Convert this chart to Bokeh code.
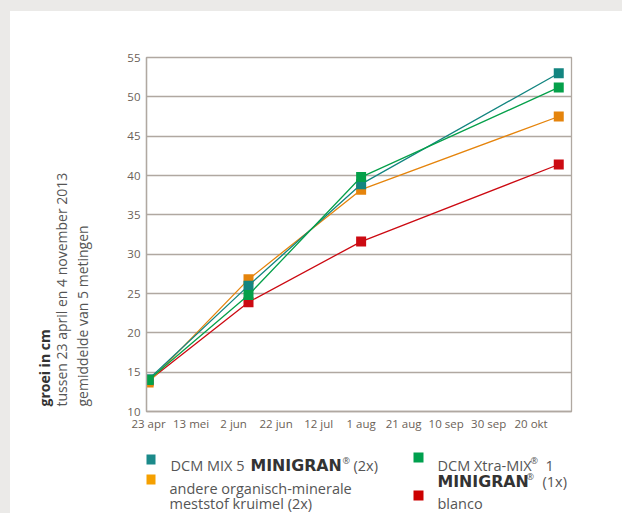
import pandas as pd
from bokeh.plotting import figure
from bokeh.models import Range1d, FixedTicker, Title, GlobalInlineStyleSheet
from bokeh.layouts import column
from bokeh.core.properties import value
from bokeh.embed import file_html
from bokeh.resources import INLINE

# ---- data -------------------------------------------------------------
meetdata = ["2013-04-23", "2013-06-09", "2013-08-01", "2013-11-02"]
dcm_mix5 = [14.1, 26.0, 38.9, 53.0]      # DCM MIX 5 MINIGRAN (2x)
andere = [13.7, 26.8, 38.2, 47.5]        # andere organisch-minerale meststof kruimel (2x)
dcm_xtra = [14.0, 24.8, 39.8, 51.2]      # DCM Xtra-MIX 1 MINIGRAN (1x)
blanco = [13.9, 23.9, 31.6, 41.4]        # blanco

tick_dates = ["2013-04-23", "2013-05-13", "2013-06-02", "2013-06-22", "2013-07-12",
              "2013-08-01", "2013-08-21", "2013-09-10", "2013-09-30", "2013-10-20"]
tick_labels = ["23 apr", "13 mei", "2 jun", "22 jun", "12 jul",
               "1 aug", "21 aug", "10 sep", "30 sep", "20 okt"]
y_ticks = [10, 15, 20, 25, 30, 35, 40, 45, 50, 55]

series_names = ["blanco", "andere", "dcm_mix5", "dcm_xtra"]
series_values = {"blanco": blanco, "andere": andere, "dcm_mix5": dcm_mix5, "dcm_xtra": dcm_xtra}
line_colors = {"blanco": "#cc0a12", "andere": "#e5840c", "dcm_mix5": "#138580", "dcm_xtra": "#05a04a"}

legend_colors = ["#1b8a8a", "#f5a000", "#00a04e", "#cc0000"]
y_title_bold = "groei in cm"
y_title_lines = ["tussen 23 april en 4 november 2013", "gemiddelde van 5 metingen"]

start = pd.Timestamp("2013-04-23")


def to_days(ds):
    return [(pd.Timestamp(d) - start).days for d in ds]


x_days = to_days(meetdata)
tick_days = to_days(tick_dates)

TICK_COLOR = "#6b5f57"
GRID_COLOR = "#b0a8a1"
TEXT_COLOR = "#555555"
FONT = "Open Sans"

# ---- main chart -------------------------------------------------------
p = figure(frame_width=425, frame_height=354,
           x_range=Range1d(-1, 199), y_range=Range1d(10, 55),
           min_border_left=136, min_border_right=51, min_border_top=46, min_border_bottom=30,
           toolbar_location=None, output_backend="svg",
           background_fill_color="white", border_fill_color="white")
p.outline_line_color = GRID_COLOR
p.outline_line_width = 1.3

p.xgrid.visible = False
p.ygrid.ticker = FixedTicker(ticks=y_ticks)
p.ygrid.grid_line_color = GRID_COLOR
p.ygrid.grid_line_width = 1.3

p.yaxis.ticker = FixedTicker(ticks=y_ticks)
p.xaxis.ticker = FixedTicker(ticks=tick_days)
p.xaxis.major_label_overrides = {d: lab for d, lab in zip(tick_days, tick_labels)}
for ax in (p.xaxis, p.yaxis):
    ax.major_tick_out = 0
    ax.major_tick_in = 0
    ax.minor_tick_out = 0
    ax.minor_tick_in = 0
    ax.axis_line_color = GRID_COLOR
    ax.axis_line_width = 1.3
    ax.major_label_text_font = FONT
    ax.major_label_text_font_size = "11.5px"
    ax.major_label_text_color = TICK_COLOR
p.yaxis.major_label_standoff = 6
p.xaxis.major_label_standoff = 4
# blank axis label used only as a spacer between tick labels and the title lines
p.yaxis.axis_label = "\u00a0"
p.yaxis.axis_label_text_font_size = "12px"
p.yaxis.axis_label_standoff = 15

for name in series_names:
    vals = series_values[name]
    col = line_colors[name]
    p.line(x_days, vals, line_color=col, line_width=1.3)
    p.scatter(x_days, vals, marker="square", size=10, fill_color=col, line_color=None)

# y-axis title: two regular lines (closest to the axis), then the bold line
p.add_layout(Title(text="\n".join(y_title_lines), align="left", offset=5, text_font=FONT,
                   text_font_size="14px", text_font_style="normal", text_color=TEXT_COLOR,
                   text_line_height=1.15, standoff=0), "left")
p.add_layout(Title(text=y_title_bold, align="left", offset=5, text_font=FONT,
                   text_font_size="14px", text_font_style="bold", text_color="#333333",
                   standoff=-8), "left")

# ---- legend: its own small figure, data coords = page pixels -----------
leg = figure(frame_width=425, frame_height=72,
             x_range=Range1d(146, 571), y_range=Range1d(513, 441),
             x_axis_type=None, y_axis_type=None,
             min_border_left=136, min_border_right=51, min_border_top=0, min_border_bottom=0,
             toolbar_location=None, output_backend="svg", outline_line_color=None,
             background_fill_color="white", border_fill_color="white",
             styles={"background-color": "white"})
leg.grid.visible = False

leg.scatter([150, 150, 418, 418], [459, 479, 457, 495], marker="square", size=10,
            fill_color=legend_colors, line_color=None)

reg_text = ["DCM MIX 5", "(2x)", "andere organisch-minerale", "meststof kruimel (2x)",
            "DCM Xtra-MIX", "1", "(1x)", "blanco"]
reg_x = [170, 353, 169, 169, 437, 545, 542, 437]
reg_y = [465, 465, 488, 503, 465, 465, 481, 503]
leg.text(reg_x, reg_y, text=reg_text, text_font=value(FONT), text_font_size="14.5px",
         text_color=TEXT_COLOR, text_baseline="alphabetic", text_align="left")

leg.text([250, 437], [465, 481], text=["MINIGRAN", "MINIGRAN"], text_font=value("DejaVu Sans"),
         text_font_style="bold", text_font_size="15.8px", text_color="#333333",
         text_baseline="alphabetic", text_align="left")

leg.text([342, 530, 526], [460, 460, 476], text=["®", "®", "®"], text_font=value(FONT),
         text_font_size="9px", text_color=TEXT_COLOR, text_baseline="alphabetic",
         text_align="left")

layout = column(p, leg, margin=(11, 0, 0, 10), styles={"background-color": "white"},
                stylesheets=[GlobalInlineStyleSheet(
                    css="html, body { background-color: #ebeae8; overflow: hidden; }")])

open("out.html", "w").write(file_html(layout, INLINE))
